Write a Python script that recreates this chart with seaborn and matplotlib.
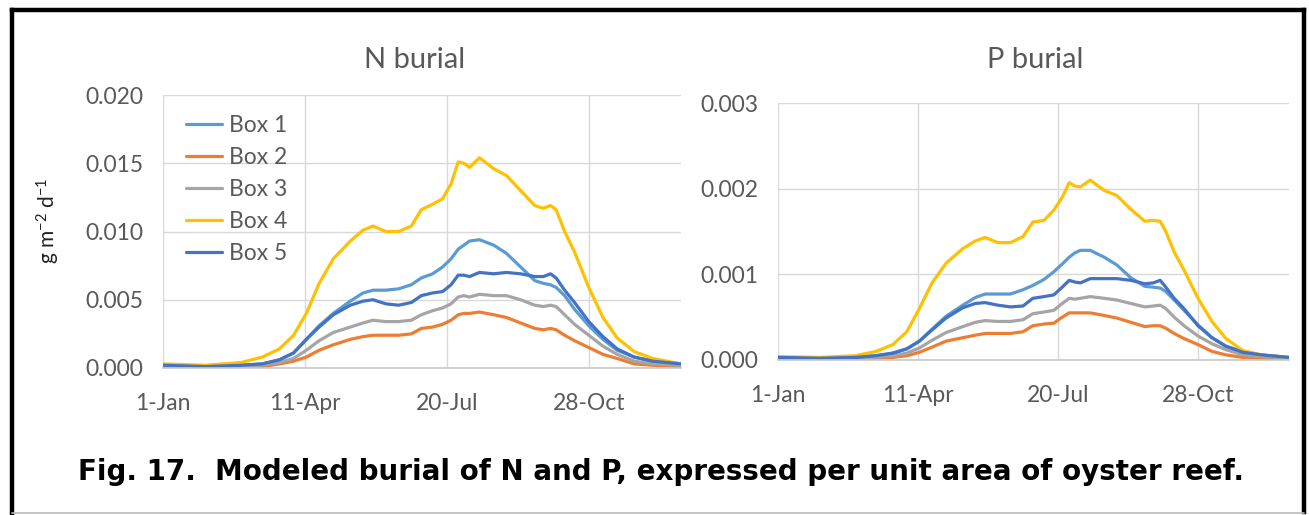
import numpy as np
import pandas as pd
import matplotlib
matplotlib.use("Agg")
import matplotlib.pyplot as plt
import seaborn as sns
from matplotlib.lines import Line2D
from matplotlib.ticker import FormatStrFormatter

# ---------------- data ----------------
days = [0, 30, 55, 70, 82, 92, 101, 110, 120, 132, 141, 148, 157, 166, 175, 182,
        190, 197, 203, 208, 212, 216, 223, 233, 242, 252, 262, 268, 273, 277, 283,
        290, 300, 310, 320, 332, 345, 365]

boxes = ["Box 1", "Box 2", "Box 3", "Box 4", "Box 5"]

n_box1 = [0.0002, 0.0001, 0.0002, 0.0003, 0.0006, 0.0011, 0.0021, 0.0031, 0.0040, 0.0049,
          0.0055, 0.0057, 0.0057, 0.0058, 0.0061, 0.0066, 0.0069, 0.0074, 0.0080, 0.0087,
          0.0090, 0.0093, 0.0094, 0.0090, 0.0084, 0.0074, 0.0064, 0.0062, 0.0061, 0.0059,
          0.0053, 0.0043, 0.0031, 0.0021, 0.0013, 0.0008, 0.0005, 0.0003]
n_box2 = [0.0001, 0.0001, 0.0001, 0.0001, 0.0003, 0.0005, 0.0008, 0.0013, 0.0017, 0.0021,
          0.0023, 0.0024, 0.0024, 0.0024, 0.0025, 0.0029, 0.0030, 0.0032, 0.0035, 0.0039,
          0.0040, 0.0040, 0.0041, 0.0039, 0.0037, 0.0033, 0.0029, 0.0028, 0.0029, 0.0028,
          0.0024, 0.0020, 0.0015, 0.0010, 0.0007, 0.0003, 0.0002, 0.0001]
n_box3 = [0.0001, 0.0001, 0.0001, 0.0002, 0.0004, 0.0007, 0.0013, 0.0020, 0.0026, 0.0030,
          0.0033, 0.0035, 0.0034, 0.0034, 0.0035, 0.0039, 0.0042, 0.0044, 0.0047, 0.0052,
          0.0053, 0.0052, 0.0054, 0.0053, 0.0053, 0.0050, 0.0046, 0.0045, 0.0046, 0.0045,
          0.0039, 0.0032, 0.0024, 0.0016, 0.0010, 0.0005, 0.0003, 0.0002]
n_box4 = [0.0003, 0.0002, 0.0004, 0.0008, 0.0014, 0.0024, 0.0040, 0.0062, 0.0080, 0.0093,
          0.0101, 0.0104, 0.0100, 0.0100, 0.0104, 0.0116, 0.0120, 0.0124, 0.0135, 0.0151,
          0.0150, 0.0147, 0.0154, 0.0146, 0.0141, 0.0130, 0.0119, 0.0117, 0.0119, 0.0116,
          0.0100, 0.0085, 0.0059, 0.0037, 0.0022, 0.0012, 0.0007, 0.0003]
n_box5 = [0.0002, 0.0001, 0.0002, 0.0003, 0.0006, 0.0011, 0.0021, 0.0030, 0.0039, 0.0046,
          0.0049, 0.0050, 0.0047, 0.0046, 0.0048, 0.0053, 0.0055, 0.0056, 0.0061, 0.0068,
          0.0068, 0.0067, 0.0070, 0.0069, 0.0070, 0.0069, 0.0067, 0.0067, 0.0069, 0.0066,
          0.0057, 0.0048, 0.0034, 0.0023, 0.0014, 0.0008, 0.0005, 0.0003]

p_box1 = [0.00003, 0.00002, 0.00003, 0.00005, 0.00008, 0.00013, 0.00022, 0.00036, 0.00051, 0.00064,
          0.00073, 0.00077, 0.00077, 0.00077, 0.00082, 0.00087, 0.00094, 0.00103, 0.00112, 0.00120,
          0.00125, 0.00128, 0.00128, 0.00120, 0.00111, 0.00096, 0.00086, 0.00085, 0.00084, 0.00080,
          0.00070, 0.00058, 0.00041, 0.00026, 0.00016, 0.00010, 0.00006, 0.00003]
p_box2 = [0.00001, 0.00001, 0.00001, 0.00002, 0.00003, 0.00005, 0.00009, 0.00015, 0.00022, 0.00026,
          0.00029, 0.00031, 0.00031, 0.00031, 0.00033, 0.00040, 0.00042, 0.00043, 0.00050, 0.00055,
          0.00055, 0.00055, 0.00055, 0.00052, 0.00049, 0.00044, 0.00039, 0.00040, 0.00040, 0.00037,
          0.00031, 0.00025, 0.00018, 0.00010, 0.00006, 0.00003, 0.00002, 0.00001]
p_box3 = [0.00002, 0.00001, 0.00002, 0.00003, 0.00005, 0.00008, 0.00014, 0.00023, 0.00032, 0.00039,
          0.00044, 0.00046, 0.00045, 0.00045, 0.00047, 0.00054, 0.00056, 0.00058, 0.00066, 0.00072,
          0.00071, 0.00072, 0.00074, 0.00072, 0.00070, 0.00066, 0.00062, 0.00063, 0.00064, 0.00060,
          0.00050, 0.00040, 0.00028, 0.00019, 0.00012, 0.00006, 0.00004, 0.00002]
p_box4 = [0.00004, 0.00003, 0.00005, 0.00010, 0.00018, 0.00033, 0.00060, 0.00090, 0.00113, 0.00130,
          0.00139, 0.00143, 0.00137, 0.00137, 0.00144, 0.00161, 0.00163, 0.00175, 0.00190, 0.00207,
          0.00203, 0.00202, 0.00210, 0.00198, 0.00192, 0.00176, 0.00162, 0.00163, 0.00162, 0.00150,
          0.00126, 0.00105, 0.00072, 0.00045, 0.00025, 0.00011, 0.00006, 0.00003]
p_box5 = [0.00003, 0.00002, 0.00003, 0.00005, 0.00008, 0.00013, 0.00022, 0.00035, 0.00049, 0.00061,
          0.00066, 0.00067, 0.00064, 0.00062, 0.00063, 0.00072, 0.00074, 0.00076, 0.00085, 0.00093,
          0.00091, 0.00090, 0.00095, 0.00095, 0.00095, 0.00093, 0.00089, 0.00090, 0.00093, 0.00085,
          0.00072, 0.00060, 0.00040, 0.00026, 0.00016, 0.00009, 0.00006, 0.00003]

tick_days = [0, 100, 200, 300]
tick_labels = ["1-Jan", "11-Apr", "20-Jul", "28-Oct"]
colors = ["#5B9BD5", "#ED7D31", "#A5A5A5", "#FFC000", "#4472C4"]

n_series = [n_box1, n_box2, n_box3, n_box4, n_box5]
p_series = [p_box1, p_box2, p_box3, p_box4, p_box5]


def long_df(series):
    rows = []
    for name, vals in zip(boxes, series):
        for d, v in zip(days, vals):
            rows.append({"day": d, "value": v, "box": name})
    return pd.DataFrame(rows)


df_n = long_df(n_series)
df_p = long_df(p_series)

# ---------------- style ----------------
sns.set_theme(style="whitegrid")
plt.rcParams["font.family"] = ["Lato", "DejaVu Sans"]
plt.rcParams["mathtext.default"] = "regular"

W, H = 1309, 515
fig = plt.figure(figsize=(W / 100, H / 100), dpi=100)
fig.patch.set_facecolor("white")


def px_axes(x0, x1, ytop, ybot):
    return fig.add_axes([x0 / W, 1 - ybot / H, (x1 - x0) / W, (ybot - ytop) / H])


ax1 = px_axes(163, 681, 95, 368)
ax2 = px_axes(778, 1289, 103, 360)

palette = dict(zip(boxes, colors))
grid_c = "#D9D9D9"
txt_c = "#595959"

for ax, df, ymax, step, fmt in [(ax1, df_n, 0.020, 0.005, "%.3f"),
                                (ax2, df_p, 0.003, 0.001, "%.3f")]:
    sns.lineplot(data=df, x="day", y="value", hue="box", palette=palette,
                 linewidth=2.3, ax=ax, legend=False)
    ax.set_xlim(0, 365)
    ax.set_ylim(0, ymax)
    ax.set_xticks(tick_days)
    ax.set_xticklabels(tick_labels)
    ax.set_yticks(np.arange(0, ymax + step / 2, step))
    ax.yaxis.set_major_formatter(FormatStrFormatter(fmt))
    ax.set_xlabel("")
    ax.set_ylabel("")
    ax.grid(True, color=grid_c, linewidth=1.0)
    ax.set_facecolor("white")
    for s in ["top", "right", "left"]:
        ax.spines[s].set_visible(False)
    ax.spines["bottom"].set_color("#C8C8C8")
    ax.spines["bottom"].set_linewidth(1.2)
    ax.tick_params(axis="both", length=0, labelsize=16.5, colors=txt_c)
    ax.tick_params(axis="y", pad=14)
    ax.tick_params(axis="x", pad=18)

ax1.set_ylabel("g m$^{-2}$ d$^{-1}$", fontsize=15, color="#222222")
ax1.yaxis.set_label_coords(-0.195, 0.54)

# titles
fig.text(415 / W, 1 - 60 / H, "N burial", ha="center", va="center", fontsize=21, color=txt_c)
fig.text(1035 / W, 1 - 60 / H, "P burial", ha="center", va="center", fontsize=21, color=txt_c)

# legend
handles = [Line2D([0], [0], color=c, lw=2.3) for c in colors]
leg = ax1.legend(handles, boxes, loc="upper left", bbox_to_anchor=(0.045, 0.925),
                 frameon=False, fontsize=16.5, handlelength=1.55, handletextpad=0.3,
                 labelspacing=0.47, borderpad=0, borderaxespad=0)
for t in leg.get_texts():
    t.set_color(txt_c)

# caption
fig.text(78 / W, 1 - 472 / H,
         "Fig. 17.  Modeled burial of N and P, expressed per unit area of oyster reef.",
         ha="left", va="center", fontsize=20, fontweight="bold", color="black",
         family=["DejaVu Sans"])

# frame
frame_kw = dict(transform=fig.transFigure, color="black", linewidth=3.2, solid_capstyle="projecting")
fig.add_artist(Line2D([12 / W, 12 / W], [0, 1 - 10 / H], **frame_kw))
fig.add_artist(Line2D([12 / W, 1304 / W], [1 - 10 / H, 1 - 10 / H], **frame_kw))
fig.add_artist(Line2D([1304 / W, 1304 / W], [1 - 10 / H, 3 / H], **frame_kw))
fig.add_artist(Line2D([12 / W, 1304 / W], [2 / H, 2 / H], transform=fig.transFigure,
                      color="#BBBBBB", linewidth=1.2))

fig.savefig("out.png", dpi=100)
